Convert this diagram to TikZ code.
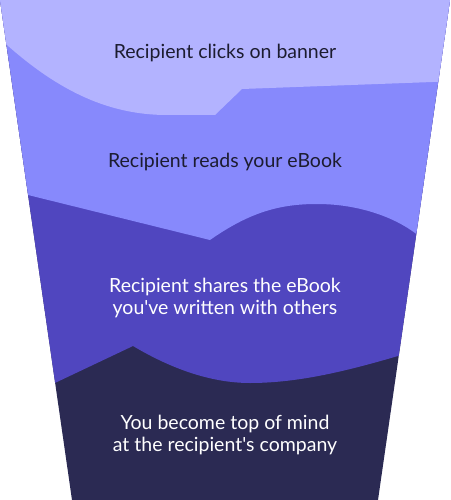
\documentclass[tikz,border=0pt]{standalone}
\usepackage{fontspec}
\setmainfont{Lato}
\definecolor{lilac}{RGB}{179,179,255}
\definecolor{periwinkle}{RGB}{135,137,252}
\definecolor{funnelindigo}{RGB}{80,70,191}
\definecolor{midnight}{RGB}{43,42,83}
\definecolor{inkdark}{RGB}{28,28,48}
\usetikzlibrary{positioning}

\begin{document}
\begin{tikzpicture}[
  x=1pt, y=-1pt,
  darktext/.style={
    align=center, text=inkdark,
    font=\fontsize{19.5}{22}\selectfont
  },
  lighttext/.style={darktext, text=white}
]
\useasboundingbox (0,0) rectangle (450,500);
% funnel layers
\begin{scope}
  \clip (0,0) -- (450,0) -- (378,500) -- (72,500) -- cycle;
  \fill[midnight] (-10,-10) rectangle (460,510);
  \fill[funnelindigo] (-10,-10) -- (-10,414) -- (57,382) -- (133,346)
    .. controls (170,368) and (210,383) .. (250,383)
    .. controls (300,383) and (350,370) .. (398,356) -- (460,340) -- (460,-10) -- cycle;
  \fill[periwinkle] (-10,-10) -- (-10,190) -- (28,195) -- (210,240)
    .. controls (250,212) and (280,204) .. (317,204)
    .. controls (360,204) and (395,218) .. (415,233) -- (460,265) -- (460,-10) -- cycle;
  \fill[lilac] (-10,-10) -- (-10,40) -- (7,45)
    .. controls (60,92) and (110,115) .. (167,115) -- (215,115) -- (242,89)
    -- (460,81) -- (460,-10) -- cycle;
\end{scope}
% stage texts
\node[darktext] (clicks) at (225,53) {Recipient clicks on banner};
\node[darktext] (reads) at (225,162) {Recipient reads your eBook};
\node[lighttext] (shares) at (225,298) {Recipient shares the eBook\\you\textquotesingle ve written with others};
\node[lighttext] (company) at (225,435) {You become top of mind\\at the recipient\textquotesingle s company};
\end{tikzpicture}
\end{document}
